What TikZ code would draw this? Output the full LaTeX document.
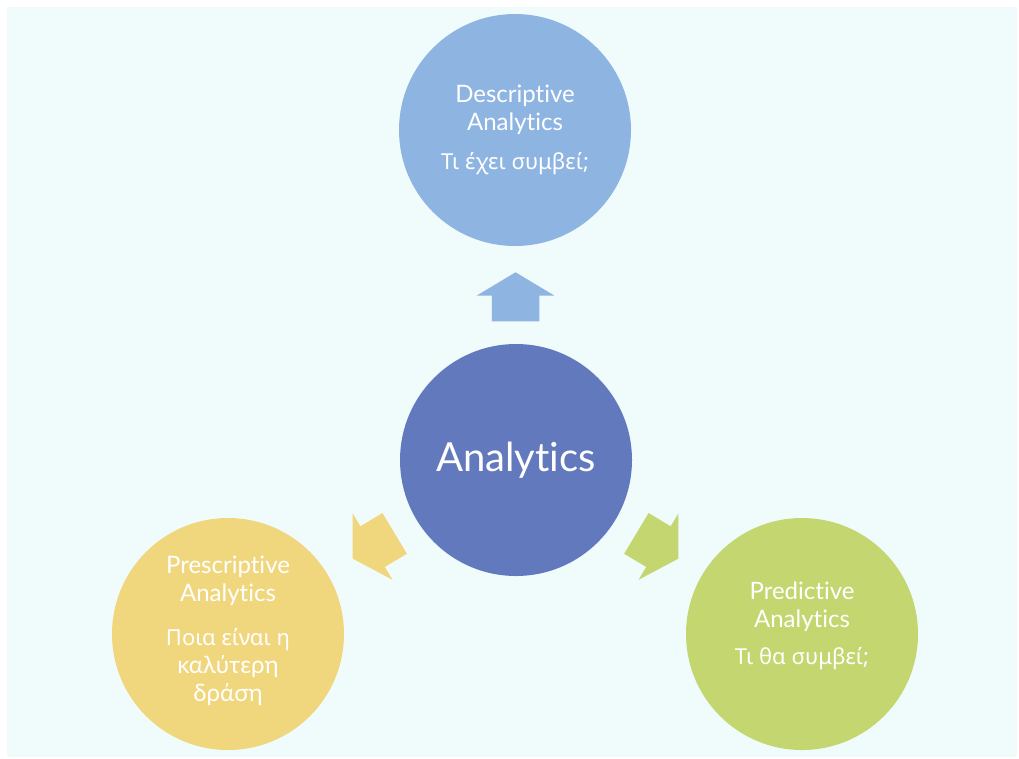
\documentclass[tikz,border=0pt]{standalone}
\usepackage{fontspec}
\setmainfont{Lato}[Ligatures=NoCommon]
\newfontfamily\grfont{Noto Sans}
\usepackage{xcolor}
\definecolor{anbg}{RGB}{240,251,252}
\definecolor{anblue}{RGB}{98,121,189}
\definecolor{anlight}{RGB}{142,180,226}
\definecolor{anyellow}{RGB}{240,215,126}
\definecolor{angreen}{RGB}{195,214,112}
\usetikzlibrary{shapes.arrows,calc}
\newcommand{\grtext}{\grfont\fontsize{16.5}{21}\selectfont}

\begin{document}
\begin{tikzpicture}[x=0.75pt, y=-0.75pt,
  hub/.style={circle, fill=anblue, minimum size=174pt, inner sep=0pt,
              text=white, font=\fontsize{30}{36}\selectfont},
  bubble/.style={circle, minimum size=174pt, inner sep=0pt},
  btext/.style={align=center, text=white, inner sep=0pt,
                font=\fontsize{18}{21}\selectfont},
  blockarr/.style={single arrow, minimum height=36.75pt, inner xsep=0pt,
                   inner ysep=17.6pt, single arrow head extend=11.25pt,
                   single arrow tip angle=118}
]
% Page background
\fill[white] (0,0) rectangle (1019,758);
\fill[anbg] (7,7) rectangle (1017,757);
\useasboundingbox (0,0) rectangle (1019,758);

% Center node
\node[hub] (analytics) at (516,460) {Analytics};

% Outer nodes
\node[bubble, fill=anlight]  (desc)  at (515,130) {};
\node[bubble, fill=anyellow] (presc) at (228,634) {};
\node[bubble, fill=angreen]  (pred)  at (802,634) {};

% Their texts
\node[btext] (desc-txt) at (desc)
  {Descriptive\\Analytics\\[8pt]\grtext Τι έχει συμβεί;};
\node[btext] (presc-txt) at ([yshift=2.5pt]presc.center)
  {Prescriptive\\Analytics\\[12pt]\grtext Ποια είναι η\\καλύτερη\\δράση};
\node[btext] (pred-txt) at ([yshift=6pt]pred.center)
  {Predictive\\Analytics\\[7pt]\grtext Τι θα συμβεί;};

% Arrows
\node[blockarr, fill=anlight,  rotate=90]  (toDesc)  at ($(analytics)!0.473!(desc)$)  {};
\node[blockarr, fill=anyellow, rotate=211] (toPresc) at ($(analytics)!0.473!(presc)$) {};
\node[blockarr, fill=angreen,  rotate=-31] (toPred)  at ($(analytics)!0.473!(pred)$)  {};
\end{tikzpicture}
\end{document}
